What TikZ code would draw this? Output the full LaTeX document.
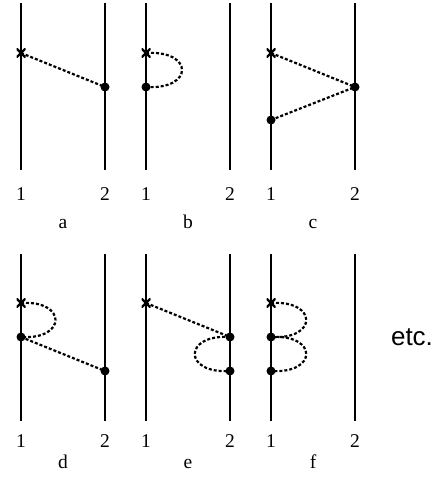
\documentclass[tikz,border=0pt]{standalone}
\usepackage{fontspec}
\setmainfont{Liberation Serif}
\newfontfamily\helv{Liberation Sans}
\begin{document}
\begin{tikzpicture}[x=1pt,y=-1pt,
  wline/.style={line width=2.8pt},
  tline/.style={line width=2.2pt},
  prop/.style={dashed,dash pattern=on 3pt off 2pt,line width=2.2pt},
  vdot/.style={circle,fill=black,inner sep=0pt,minimum size=9pt},
  vcross/.style={inner sep=0pt,minimum size=9pt,path picture={
    \draw[line width=2.4pt] (path picture bounding box.north west) -- (path picture bounding box.south east)
      (path picture bounding box.north east) -- (path picture bounding box.south west);}},
  num/.style={font=\fontsize{19.5}{19.5}\selectfont,anchor=base},
  lab/.style={font=\fontsize{19.5}{19.5}\selectfont,anchor=base}]
\useasboundingbox (0,0) rectangle (436,487);
% ---- top row lines
\coordinate (a1t) at (21,3); \coordinate (a1b) at (21,170);
\coordinate (a2t) at (105,3); \coordinate (a2b) at (105,170);
\coordinate (b1t) at (146,3); \coordinate (b1b) at (146,170);
\coordinate (b2t) at (230,3); \coordinate (b2b) at (230,170);
\coordinate (c1t) at (271,3); \coordinate (c1b) at (271,170);
\coordinate (c2t) at (355,3); \coordinate (c2b) at (355,170);
\draw[wline] (a1t) -- (a1b); \draw[wline] (a2t) -- (a2b);
\draw[wline] (b1t) -- (b1b); \draw[tline] (b2t) -- (b2b);
\draw[wline] (c1t) -- (c1b); \draw[wline] (c2t) -- (c2b);
% ---- bottom row lines
\coordinate (d1t) at (21,254); \coordinate (d1b) at (21,421);
\coordinate (d2t) at (105,254); \coordinate (d2b) at (105,421);
\coordinate (e1t) at (146,254); \coordinate (e1b) at (146,421);
\coordinate (e2t) at (230,254); \coordinate (e2b) at (230,421);
\coordinate (f1t) at (271,254); \coordinate (f1b) at (271,421);
\coordinate (f2t) at (355,254); \coordinate (f2b) at (355,421);
\draw[wline] (d1t) -- (d1b); \draw[wline] (d2t) -- (d2b);
\draw[wline] (e1t) -- (e1b); \draw[tline] (e2t) -- (e2b);
\draw[wline] (f1t) -- (f1b); \draw[wline] (f2t) -- (f2b);
% ---- panel a
\node[vcross] (ax) at (21,53) {};
\node[vdot] (ad) at (105,87) {};
\draw[prop] (ax.center) -- (ad.center);
% ---- panel b
\node[vcross] (bx) at (146,53) {};
\node[vdot] (bd) at (146,87) {};
\draw[prop] (bx.center) .. controls (194,50) and (194,90) .. (bd.center);
% ---- panel c
\node[vcross] (cx) at (271,53) {};
\node[vdot] (cd) at (355,87) {};
\node[vdot] (ce) at (271,120) {};
\draw[prop] (cx.center) -- (cd.center);
\draw[prop] (ce.center) -- (cd.center);
% ---- panel d
\node[vcross] (dx) at (21,303) {};
\node[vdot] (dd) at (21,337) {};
\node[vdot] (de) at (105,371) {};
\draw[prop] (dx.center) .. controls (67,300) and (67,340) .. (dd.center);
\draw[prop] (dd.center) -- (de.center);
% ---- panel e
\node[vcross] (ex) at (146,303) {};
\node[vdot] (ed) at (230,337) {};
\node[vdot] (ee) at (230,371) {};
\draw[prop] (ex.center) -- (ed.center);
\draw[prop] (ed.center) .. controls (183,334) and (183,374) .. (ee.center);
% ---- panel f
\node[vcross] (fx) at (271,303) {};
\node[vdot] (fd) at (271,337) {};
\node[vdot] (fe) at (271,371) {};
\draw[prop] (fx.center) .. controls (318,300) and (318,340) .. (fd.center);
\draw[prop] (fd.center) .. controls (318,334) and (318,374) .. (fe.center);
% ---- labels
\node[num] (la1) at (21,200) {1}; \node[num] (la2) at (105,200) {2};
\node[num] (lb1) at (146,200) {1}; \node[num] (lb2) at (230,200) {2};
\node[num] (lc1) at (271,200) {1}; \node[num] (lc2) at (355,200) {2};
\node[lab] (la) at (63,228) {a}; \node[lab] (lb) at (188,228) {b}; \node[lab] (lc) at (313,228) {c};
\node[num] (ld1) at (21,447) {1}; \node[num] (ld2) at (105,447) {2};
\node[num] (le1) at (146,447) {1}; \node[num] (le2) at (230,447) {2};
\node[num] (lf1) at (271,447) {1}; \node[num] (lf2) at (355,447) {2};
\node[lab] (ld) at (63,468) {d}; \node[lab] (le) at (188,468) {e}; \node[lab] (lf) at (313,468) {f};
\node[font=\helv\fontsize{26}{26}\selectfont,anchor=base] (etc) at (412,345) {etc.};
\end{tikzpicture}
\end{document}
